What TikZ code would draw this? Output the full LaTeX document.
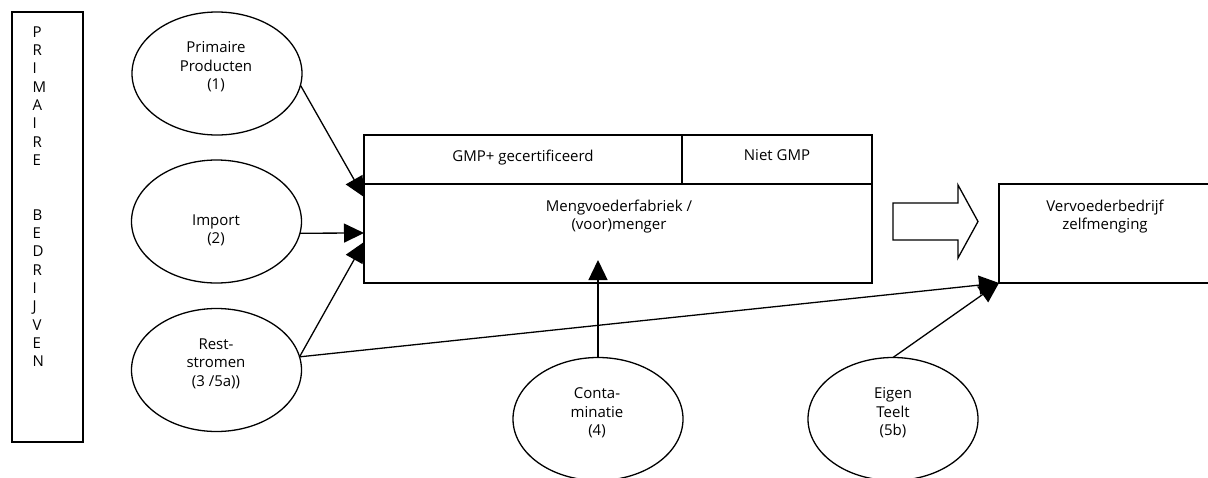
\documentclass[tikz,border=0pt]{standalone}
\usepackage{fontspec}
\setmainfont{Open Sans}
\usetikzlibrary{shapes.geometric,arrows.meta}
\begin{document}
\begin{tikzpicture}[x=1pt,y=-1pt,line width=1.3pt,
  oval/.style={draw, ellipse, minimum width=170pt, minimum height=123pt, inner sep=0pt, outer sep=0pt},
  box/.style={draw, rectangle, inner sep=0pt, outer sep=0pt},
  lbl/.style={align=center, anchor=north, inner sep=0pt, font=\fontsize{15}{18.5}\selectfont},
  conn/.style={-{Triangle[length=20pt,width=19pt]}}]
\useasboundingbox (0,0) rectangle (1208,477);

% left column
\node[box, minimum width=71pt, minimum height=430pt] (pb) at (47.5,227) {};
\node[align=left, anchor=north west, inner sep=0pt, font=\fontsize{15}{18.3}\selectfont] (pbt) at (32,26)
  {P\\R\\I\\M\\A\\I\\R\\E\\~\\~\\B\\E\\D\\R\\I\\J\\V\\E\\N};

% ellipses
\node[oval] (pp) at (217,73.5) {};
\node[lbl] (ppt) at (216,41) {Primaire\\Producten\\(1)};
\node[oval] (im) at (216.5,221.5) {};
\node[lbl] (imt) at (216,214) {Import\\(2)};
\node[oval] (rs) at (216.5,370) {};
\node[lbl] (rst) at (216,338) {Rest-\\stromen\\(3 /5a))};
\node[oval] (cn) at (598,419) {};
\node[lbl] (cnt) at (597,387) {Conta-\\minatie\\(4)};
\node[oval] (et) at (893,419) {};
\node[lbl] (ett) at (893,387) {Eigen\\Teelt\\(5b)};

% main box
\node[box, minimum width=318pt, minimum height=49pt] (gmp) at (523,159.5) {};
\node[lbl] (gmpt) at (523,149) {GMP+ gecertificeerd};
\node[box, minimum width=190pt, minimum height=49pt] (niet) at (777,159.5) {};
\node[lbl] (nietb) at (777,149) {Niet GMP};
\node[box, minimum width=508pt, minimum height=99pt] (mv) at (618,233.5) {};
\node[lbl] (mvt) at (619,199) {Mengvoederfabriek /\\(voor)menger};

% right box
\node[box, minimum width=220pt, minimum height=99pt] (vv) at (1109,233.5) {};
\node[lbl] (vvt) at (1105,199) {Vervoederbedrijf\\zelfmenging};

% hollow arrow
\draw (893,203) -- (958,203) -- (958,185) -- (978,221.5) -- (958,258) -- (958,240) -- (893,240) -- cycle;

% connectors
\coordinate (t1) at (364,197);
\coordinate (t2) at (364,233);
\coordinate (t3) at (364,242);
\coordinate (t4) at (598,260);
\draw[conn] (pp.-8) -- (t1);
\draw[conn] (im.-8) -- (t2);
\draw[conn] (rs.9) -- (t3);
\draw[conn] (rs.9) -- (vv.south west);
\draw[conn] (cn.north) -- (t4);
\draw[conn] (et.north) -- (vv.south west);
\end{tikzpicture}
\end{document}
